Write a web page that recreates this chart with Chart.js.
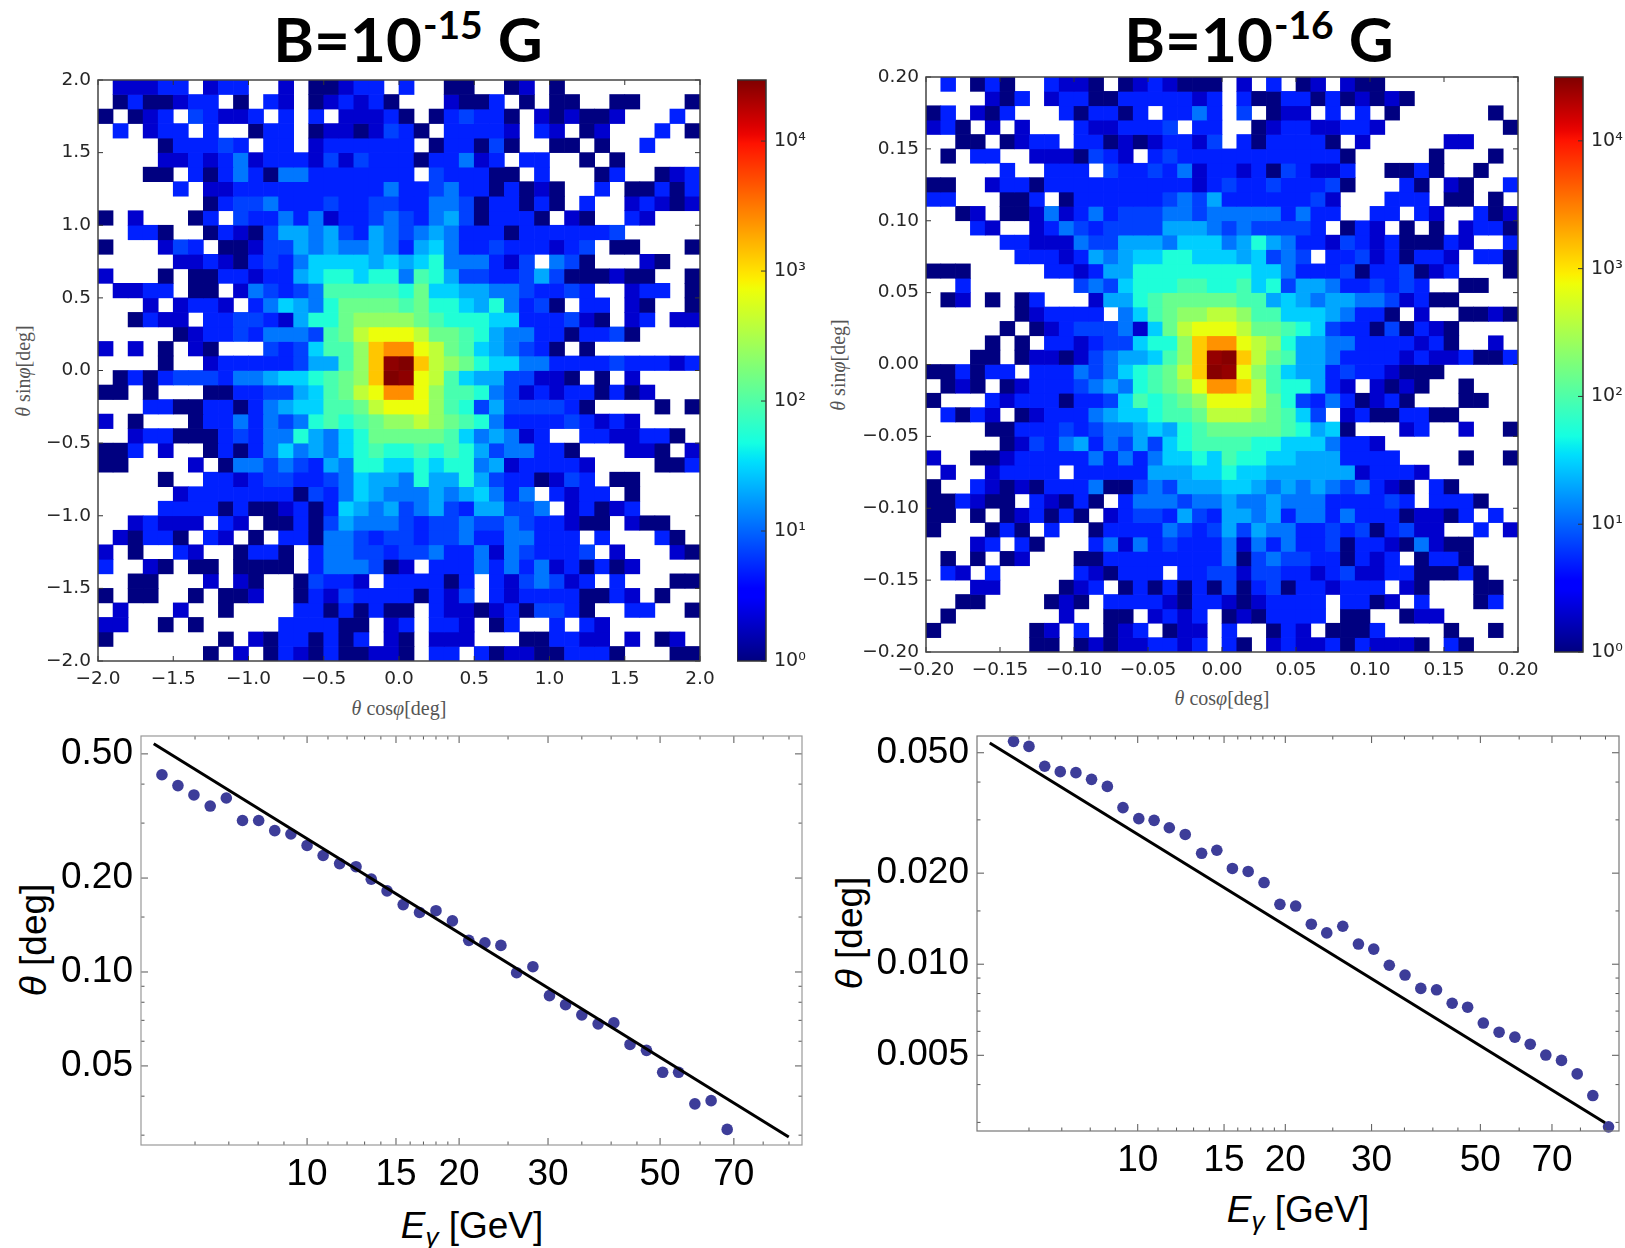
<!DOCTYPE html>
<html>
<head>
<meta charset="utf-8">
<title>Deflection angle maps</title>
<script src="https://cdn.jsdelivr.net/npm/chart.js@4"></script>
<style>
  body { margin: 0; background: #fff; }
  #page { position: relative; width: 1625px; height: 1248px; overflow: hidden; }
  canvas { position: absolute; }
  .txt { position: absolute; transform: translate(-50%, -50%); white-space: nowrap; }
  .title { font: 700 62px Lato, sans-serif; color: #000; line-height: 1; }
  .title sup { font-size: 39px; line-height: 0; vertical-align: 23px; margin-left: 1px; }
  .heatlab { font: 20px "Liberation Serif", serif; color: #555; }
  .plotlab { font: 37px "Liberation Sans", sans-serif; color: #000; }
  .plotlab sub { font-size: 26px; line-height: 0; }
  .rot { transform: translate(-50%, -50%) rotate(-90deg); }
</style>
</head>
<body>
<div id="page">
  <div class="txt title" style="left:408px;top:38px">B=10<sup>-15</sup> G</div>
  <div class="txt title" style="left:1259px;top:38px">B=10<sup>-16</sup> G</div>
  <div class="txt heatlab" style="left:399px;top:708px"><i>θ</i> cos<i>φ</i>[deg]</div>
  <div class="txt heatlab rot" style="left:23px;top:371px"><i>θ</i> sin<i>φ</i>[deg]</div>
  <div class="txt heatlab" style="left:1222px;top:698px"><i>θ</i> cos<i>φ</i>[deg]</div>
  <div class="txt heatlab rot" style="left:838px;top:365px"><i>θ</i> sin<i>φ</i>[deg]</div>
  <div class="txt plotlab" style="left:472px;top:1226px"><i>E<sub>γ</sub></i> [GeV]</div>
  <div class="txt plotlab rot" style="left:34px;top:940px"><i>θ</i> [deg]</div>
  <div class="txt plotlab" style="left:1298px;top:1210px"><i>E<sub>γ</sub></i> [GeV]</div>
  <div class="txt plotlab rot" style="left:850px;top:933px"><i>θ</i> [deg]</div>
</div>

<script>
// counts per colour level ('.' = empty bin)
const levelCounts = { a: 1, b: 2, c: 5, d: 7, e: 12, f: 20, g: 30, h: 55, i: 90, j: 140,
  k: 230, l: 400, m: 700, n: 1350, o: 2500, q: 26000, r: 29500 };

// histogram B=10^-15 G, rows from top to bottom, 40 bins per row
const heat1Rows = [
  ".bbbcc.bcc ..b.aabcc. c..aa..ab. a.........",
  ".acaabcc.a .cb.abcbca ...baac.a. aa..aa...a",
  "a.abc.dcbb c.c.c.bbbc a.acdcca.b abaab...c.",
  ".c.bcc.c.. acc.abbabd ca.ccccb.c b.ab...c.a",
  "....acccdc .cc.bccccc c.accada.. aa.a..c...",
  "....bbcbce bcccbdbdcc caccebc.cc ..a.a.....",
  "...aa.cace caeecccccc c.dcccaa.c ...ac..abc",
  ".....c.bbc ccccccccce ccdeccacab a..c.aacac",
  ".......acd decccdccdd cceedaccac a.c..bcbab",
  "a.b...ac.d ccecebccde dcefdaccca .ba..cb...",
  "..cca..acb adffefdcfe defecccacc ccccd.....",
  "a...bdc.aa bddfefeefe cfgeccdccc bcd.aa...a",
  ".....bbcba cdceggggfg fgheeecbd. eda...ba..",
  "b...a.aacc bccfghhghh eihfddccdf daaabaa..a",
  ".bbcc.aa.b edcdeiiiii hjggffeedc cdc..bcc.a",
  "...b.bccb. cegfehjjjj ijhhgfhecd a.cc.ba..a",
  "..acbb.ccd dcbfhhjkkk kjihhhggcc cdba.bc.bb",
  ".....abccd ceeedijlmm mljjihfeec caccda....",
  "b.b.a.ba.. .dcdgiikno omljigfedc a.a.......",
  "....a..bcc cccdffiknq rnlkjhggee ccccdcccbc",
  ".acacdddce efgghijknr qmligffddb ba.a.b....",
  "aa.a...aac cddfgijlmo omkiihedbc bccacab...",
  "...ccaacca cefggiijlm mmkihdfddd dca....a.a",
  "b.a...acce cedehihijk klkjiheccc cdcbcb....",
  "..bccaaacd ceehfeghjj jjjigefebc ..ccbbcca.",
  "aac.b..aca cegefeghih hihihfdeec ca...bba.b",
  "aa....b.ae ededcfehhg ghghhefbcc ccb....aac",
  "....a..ccb cddccdegff ehffhfdcca bdc.aa....",
  ".....bcccc cccadcegfe eefefgece. cbcc.a....",
  "....ccccac aabcacgfef defdcffdde .bcabc....",
  "..bcbbb.cb .aacadfeee dcddeddedc cbaa.baa..",
  ".bacca.cb. a.ccaeedcd dcddecceec cc.c...ca.",
  "b.a..cb..a cca.ceeddc ddeccebedc ccd.b...ba",
  "c..ba.aa.a aaa.ceeeda b.cccecece bcacab....",
  "..aa...b.b a..adccb.c cccac.cbde dbc.c...aa",
  "a.aa..a.aa b..acbdccc cacbd.cbcc ccaacb.a..",
  ".b...b..a. ...ccacaca a.cbbabcad dca..cc..a",
  "bb..a.a... ..ccccaa.b c.ccb.ac.. c.cb......",
  "a.......a. baccacac.b a.bbb...aa ccbb.b.ab.",
  ".......a.b .acbacaabb a.cc.cabba accca...aa"
];

// histogram B=10^-16 G
const heat2Rows = [
  ".c.aca..cb ba.abcbaaa .b.c.ab.ba a.........",
  "....bac.bc caacccccbc .caaccacab aba.......",
  "ac.bac...c accac.ccec .d.abb.c.c .a......a.",
  "bca.b.b... cbbcccd.cc ..abccbbcc b........a",
  "..aa.abcc. ccababccbd .cacccca.b .....bb...",
  ".a.cc..bbb adcb.cdccc cccccccca. ....a...a.",
  ".....c..cc c.dccdcebc cbcadcbbc. .aaca..a..",
  "aa..bccacc ccccccccbc dccdcccda. ..ca.ba..c",
  "cc...aac.a ccccccdedf ccccccdb.. .ccc.aa.a.",
  "..ab.aabeb cecdddeede eeeececc.. cc.cb..cab",
  "...cb..bce dcddddfffe deddddc.ac b.a.a.bcca",
  ".....ccbbb eddfffeggg efhfeccbdc bcaaacb..c",
  "......cccb cfefgghhgg gfgded.ccd bcaccb.cca",
  "aaa.....cc bcffhhhhhh hhggecccda ccdabc...a",
  "..c....... dedghhhiih highdffecc dcdc..aa..",
  ".ab.a.ac.. .bffhijjjj jiifgfeffe edbcaa....",
  "......abcc cc.egijkkl lkiigggfec ca.b..aaba",
  ".....a.abc dddebgjlmm mljjihgdcc adacba....",
  "....a.a.cc bcddghhkno omlkhffeec cccbca..b.",
  "...aa.abba bdeffgiknq rnljiffecc ccbcbbcaac",
  "aacacc.ccc edeghijlnr qmkigffcdc cbaaa.....",
  ".aba.abccc defehijkmo onlihhfcb. baba..a...",
  "a...cbccca ccdgihijkm mmljhdceca bca...aa..",
  ".cacb.abcc cefgghiijl llkjigd.bc aaccaa....",
  "....aacccd cdeefgfhij jjjjihfga. ..bc..b..a",
  ".....abdce fcedfdghii iihhgggecc b.........",
  "b..aabcccc cececegghg ihhggfffcc cc....a..a",
  ".b..bcccc. cccccfffgg hggffffffb cccb......",
  "a..cbabacc ceaadedfff ggfefefede cba.ca....",
  "aacbaa.cba ca.ceeedee feefeeeccc cdc.ccca..",
  "aa.a.abcac a.bcddcfdc ffefceecec ccabbac.c.",
  "a...aca.c. .accccedcd fdfeeccdcd acdbb..c.b",
  "...bc.ca.. .cebecdccc ebececcdac cbaebaa...",
  ".a.a.ab... aacccccccc eadeddccac bc.acca...",
  ".cb.c..... cbaccc.ccd dbddccbcdb bccaaaca..",
  "...bb....a bc.acacaca dacdaccbcc c.ba...aa.",
  "..aa....ab a.ccccbacc babcccc.cc ab.c...ac.",
  ".a.......b ..aa.bcbc. abacccc.aa ..abb.....",
  "a......ab. c.abc.abb. c..acb.aaa c....a..a.",
  ".......aa. ababbccbc. ca.bcbbcac bbba.ca..."
];

const heat1Ticks = [-2, -1.5, -1, -0.5, 0, 0.5, 1, 1.5, 2];
const heat2Ticks = [-0.2, -0.15, -0.1, -0.05, 0, 0.05, 0.1, 0.15, 0.2];
const barTicks = [1, 10, 100, 1000, 10000];
const barLabels = ['10⁰', '10¹', '10²', '10³', '10⁴'];
const heat1Max = 29500;
const heat2Max = 31600;

// lower panels
const energy1 = [5.16, 5.55, 5.97, 6.43, 6.92, 7.45, 8.02, 8.63, 9.29, 10.0, 10.76, 11.6,
  12.5, 13.4, 14.4, 15.5, 16.7, 18.0, 19.4, 20.9, 22.5, 24.2, 26.0, 28.0, 30.2, 32.5, 35.0,
  37.7, 40.5, 43.6, 47.0, 50.6, 54.4, 58.6, 63.1, 67.9];
const theta1 = [0.4286, 0.3957, 0.3693, 0.3402, 0.3611, 0.3058, 0.3058, 0.2838, 0.2768, 0.2544,
  0.2362, 0.2225, 0.2175, 0.1984, 0.1819, 0.1644, 0.1552, 0.1572, 0.1458, 0.1263, 0.1241, 0.1217,
  0.0995, 0.104, 0.084, 0.0786, 0.0729, 0.0682, 0.0687, 0.0586, 0.0561, 0.0477, 0.0477, 0.0378,
  0.0387, 0.0313];
const fit1E = [4.97, 89.9];
const fit1Theta = [0.539, 0.0296];

const energy2 = [5.58, 6.0, 6.46, 6.95, 7.48, 8.05, 8.67, 9.33, 10.05, 10.8, 11.6, 12.5, 13.5,
  14.5, 15.6, 16.8, 18.1, 19.5, 21.0, 22.6, 24.3, 26.2, 28.2, 30.3, 32.6, 35.1, 37.8, 40.7, 43.8,
  47.1, 50.7, 54.6, 58.8, 63.2, 68.0, 73.2, 78.8, 84.8, 91.3];
const theta2 = [0.05453, 0.05248, 0.04512, 0.04331, 0.04297, 0.04084, 0.0387, 0.03294, 0.03028,
  0.02989, 0.02825, 0.02685, 0.02326, 0.02381, 0.02073, 0.02026, 0.01862, 0.01577, 0.01557, 0.01356,
  0.01269, 0.01335, 0.01166, 0.01122, 0.00992, 0.00921, 0.00832, 0.00823, 0.00743, 0.00721, 0.00639,
  0.00596, 0.00574, 0.00544, 0.00501, 0.00481, 0.00434, 0.00368, 0.0029];
const fit2E = [4.99, 89.8];
const fit2Theta = [0.05384, 0.00299];

const energyTicks = [10, 15, 20, 30, 50, 70];
const energyMinor = [6, 7, 8, 9, 11, 12, 13, 14, 16, 17, 18, 19, 25, 35, 40, 45, 60, 80, 90];
const theta1Ticks = [0.05, 0.1, 0.2, 0.5];
const theta1Minor = [0.03, 0.04, 0.06, 0.07, 0.08, 0.09, 0.15, 0.3, 0.4];
const theta2Ticks = [0.005, 0.01, 0.02, 0.05];
const theta2Minor = [0.003, 0.004, 0.006, 0.007, 0.008, 0.009, 0.015, 0.03, 0.04];

// matplotlib jet
const jetR = [[0, 0], [0.35, 0], [0.66, 1], [0.89, 1], [1, 0.5]];
const jetG = [[0, 0], [0.125, 0], [0.375, 1], [0.64, 1], [0.91, 0], [1, 0]];
const jetB = [[0, 0.5], [0.11, 1], [0.34, 1], [0.65, 0], [1, 0]];

function channel(anchors, t) {
  for (let i = 1; i < anchors.length; i++) {
    if (t <= anchors[i][0]) {
      const [a, va] = anchors[i - 1];
      const [b, vb] = anchors[i];
      return va + (vb - va) * (t - a) / (b - a);
    }
  }
  return anchors[anchors.length - 1][1];
}

function jet(t) {
  t = Math.min(1, Math.max(0, t));
  const c = [jetR, jetG, jetB].map(a => Math.round(channel(a, t) * 255));
  return `rgb(${c[0]},${c[1]},${c[2]})`;
}

// frame and inward ticks, placed through the chart's own scales
function frameTicks(cfg) {
  return {
    id: 'frameTicks',
    afterDatasetsDraw(chart) {
      const { ctx, chartArea: a, scales } = chart;
      const seg = (x1, y1, x2, y2) => { ctx.moveTo(x1, y1); ctx.lineTo(x2, y2); };
      ctx.save();
      ctx.strokeStyle = cfg.tickColor;
      ctx.lineWidth = 1;
      ctx.beginPath();
      const xMarks = (vals, len) => vals.forEach(v => {
        const p = scales.x.getPixelForValue(v);
        seg(p, a.bottom, p, a.bottom - len);
        seg(p, a.top, p, a.top + len);
      });
      const yMarks = (vals, len) => vals.forEach(v => {
        const p = scales.y.getPixelForValue(v);
        if (!cfg.rightOnly) seg(a.left, p, a.left + len, p);
        seg(a.right, p, a.right - len, p);
      });
      xMarks(cfg.xMajor || [], cfg.majorLen);
      xMarks(cfg.xMinor || [], cfg.minorLen);
      yMarks(cfg.yMajor || [], cfg.majorLen);
      yMarks(cfg.yMinor || [], cfg.minorLen);
      ctx.stroke();
      ctx.strokeStyle = cfg.frameColor;
      ctx.lineWidth = cfg.frameWidth;
      ctx.strokeRect(a.left, a.top, a.right - a.left, a.bottom - a.top);
      ctx.restore();
    }
  };
}

function addCanvas(plot, m) {
  const c = document.createElement('canvas');
  c.width = plot.right - plot.left + m.left + m.right;
  c.height = plot.bottom - plot.top + m.top + m.bottom;
  c.style.left = (plot.left - m.left) + 'px';
  c.style.top = (plot.top - m.top) + 'px';
  document.getElementById('page').appendChild(c);
  return c;
}

function setTicks(values) {
  return scale => { scale.ticks = values.map(value => ({ value })); };
}

function axis(type, min, max, values, fmt, font, padding, fit, color) {
  return {
    type, min, max,
    offset: false,
    grid: { display: false, offset: false, drawTicks: false },
    border: { display: false },
    afterBuildTicks: setTicks(values),
    afterFit: fit,
    ticks: { callback: fmt, font, color: color || '#262626', padding, autoSkip: false, maxRotation: 0, minRotation: 0 }
  };
}

function heatmap(plot, rows, limit, ticks, digits, vmax) {
  const n = 40;
  const cell = 2 * limit / n;
  const margins = { left: 85, right: 32, top: 24, bottom: 40 };
  const fmt = v => (v < 0 ? '−' : '') + Math.abs(v).toFixed(digits);
  const font = { family: 'DejaVu Sans', size: 18.5 };
  const datasets = rows.map((row, i) => {
    const top = limit - i * cell;
    const data = [];
    const backgroundColor = [];
    row.replace(/ /g, '').split('').forEach((code, j) => {
      if (code === '.') return;
      data.push({ x: -limit + (j + 0.5) * cell, y: [top - cell, top] });
      backgroundColor.push(jet(Math.log10(levelCounts[code]) / Math.log10(vmax)));
    });
    return { data, backgroundColor, borderWidth: 0 };
  });
  new Chart(addCanvas(plot, margins), {
    type: 'bar',
    data: { datasets },
    plugins: [frameTicks({ xMajor: ticks, yMajor: ticks, majorLen: 5, tickColor: '#333',
      frameColor: '#444', frameWidth: 1.5 })],
    options: {
      responsive: false,
      animation: false,
      events: [],
      layout: { padding: { left: 0, right: margins.right, top: margins.top, bottom: 0 } },
      datasets: { bar: { grouped: false, barPercentage: 1, categoryPercentage: 1 } },
      plugins: { legend: { display: false }, tooltip: { enabled: false } },
      scales: {
        x: axis('linear', -limit, limit, ticks, fmt, font, 7, s => { s.height = margins.bottom; }),
        y: axis('linear', -limit, limit, ticks, fmt, font, 7, s => { s.width = margins.left; })
      }
    }
  });
}

function colorbar(plot, vmax) {
  const margins = { left: 0, right: 60, top: 24, bottom: 24 };
  const fill = context => {
    const { ctx, chartArea } = context.chart;
    if (!chartArea) return '#000';
    const g = ctx.createLinearGradient(0, chartArea.bottom, 0, chartArea.top);
    for (let s = 0; s <= 64; s++) g.addColorStop(s / 64, jet(s / 64));
    return g;
  };
  new Chart(addCanvas(plot, margins), {
    type: 'bar',
    data: { labels: [''], datasets: [{ data: [[1, vmax]], backgroundColor: fill, borderWidth: 0,
      barPercentage: 1, categoryPercentage: 1 }] },
    plugins: [frameTicks({ yMajor: barTicks, majorLen: 5, rightOnly: true, tickColor: '#333',
      frameColor: '#333', frameWidth: 1.5 })],
    options: {
      responsive: false,
      animation: false,
      events: [],
      layout: { padding: { top: margins.top, bottom: margins.bottom } },
      plugins: { legend: { display: false }, tooltip: { enabled: false } },
      scales: {
        x: { display: false },
        y: Object.assign(
          axis('logarithmic', 1, vmax, barTicks, v => barLabels[barTicks.indexOf(v)],
            { family: 'DejaVu Sans', size: 19 }, 8, s => { s.width = margins.right; }),
          { position: 'right' })
      }
    }
  });
}

function thetaPlot(plot, energy, theta, fitE, fitTheta, xLim, yLim, yTicks, yMinor, digits, frameColor) {
  const margins = { left: 135, right: 6, top: 36, bottom: 50 };
  const font = { family: 'Liberation Sans', size: 37 };
  new Chart(addCanvas(plot, margins), {
    type: 'scatter',
    data: {
      datasets: [
        { data: fitE.map((x, i) => ({ x, y: fitTheta[i] })), showLine: true, pointRadius: 0,
          borderColor: '#000', borderWidth: 3 },
        { data: energy.map((x, i) => ({ x, y: theta[i] })), pointRadius: 5.8, pointBorderWidth: 0,
          pointBackgroundColor: '#3d3d99', clip: false }
      ]
    },
    plugins: [frameTicks({ xMajor: energyTicks, xMinor: energyMinor, yMajor: yTicks, yMinor,
      majorLen: 7, minorLen: 3.5, tickColor: '#555', frameColor, frameWidth: 1.2 })],
    options: {
      responsive: false,
      animation: false,
      events: [],
      layout: { padding: { left: 0, right: margins.right, top: margins.top, bottom: 0 } },
      plugins: { legend: { display: false }, tooltip: { enabled: false } },
      scales: {
        x: axis('logarithmic', xLim[0], xLim[1], energyTicks, v => String(v), font, 8,
          s => { s.height = margins.bottom; }, '#000'),
        y: axis('logarithmic', yLim[0], yLim[1], yTicks, v => v.toFixed(digits), font, 8,
          s => { s.width = margins.left; }, '#000')
      }
    }
  });
}

heatmap({ left: 98, top: 80, right: 700, bottom: 661 }, heat1Rows, 2, heat1Ticks, 1, heat1Max);
colorbar({ left: 737, top: 80, right: 766, bottom: 661 }, heat1Max);
heatmap({ left: 926, top: 77, right: 1518, bottom: 652 }, heat2Rows, 0.2, heat2Ticks, 2, heat2Max);
colorbar({ left: 1554, top: 77, right: 1583, bottom: 652 }, heat2Max);
thetaPlot({ left: 141, top: 736, right: 802, bottom: 1145 }, energy1, theta1, fit1E, fit1Theta,
  [4.69, 95.5], [0.0279, 0.5705], theta1Ticks, theta1Minor, 2, '#999');
thetaPlot({ left: 977, top: 736, right: 1619, bottom: 1131 }, energy2, theta2, fit2E, fit2Theta,
  [4.7, 95.9], [0.00281, 0.0568], theta2Ticks, theta2Minor, 3, '#777');
</script>
</body>
</html>
